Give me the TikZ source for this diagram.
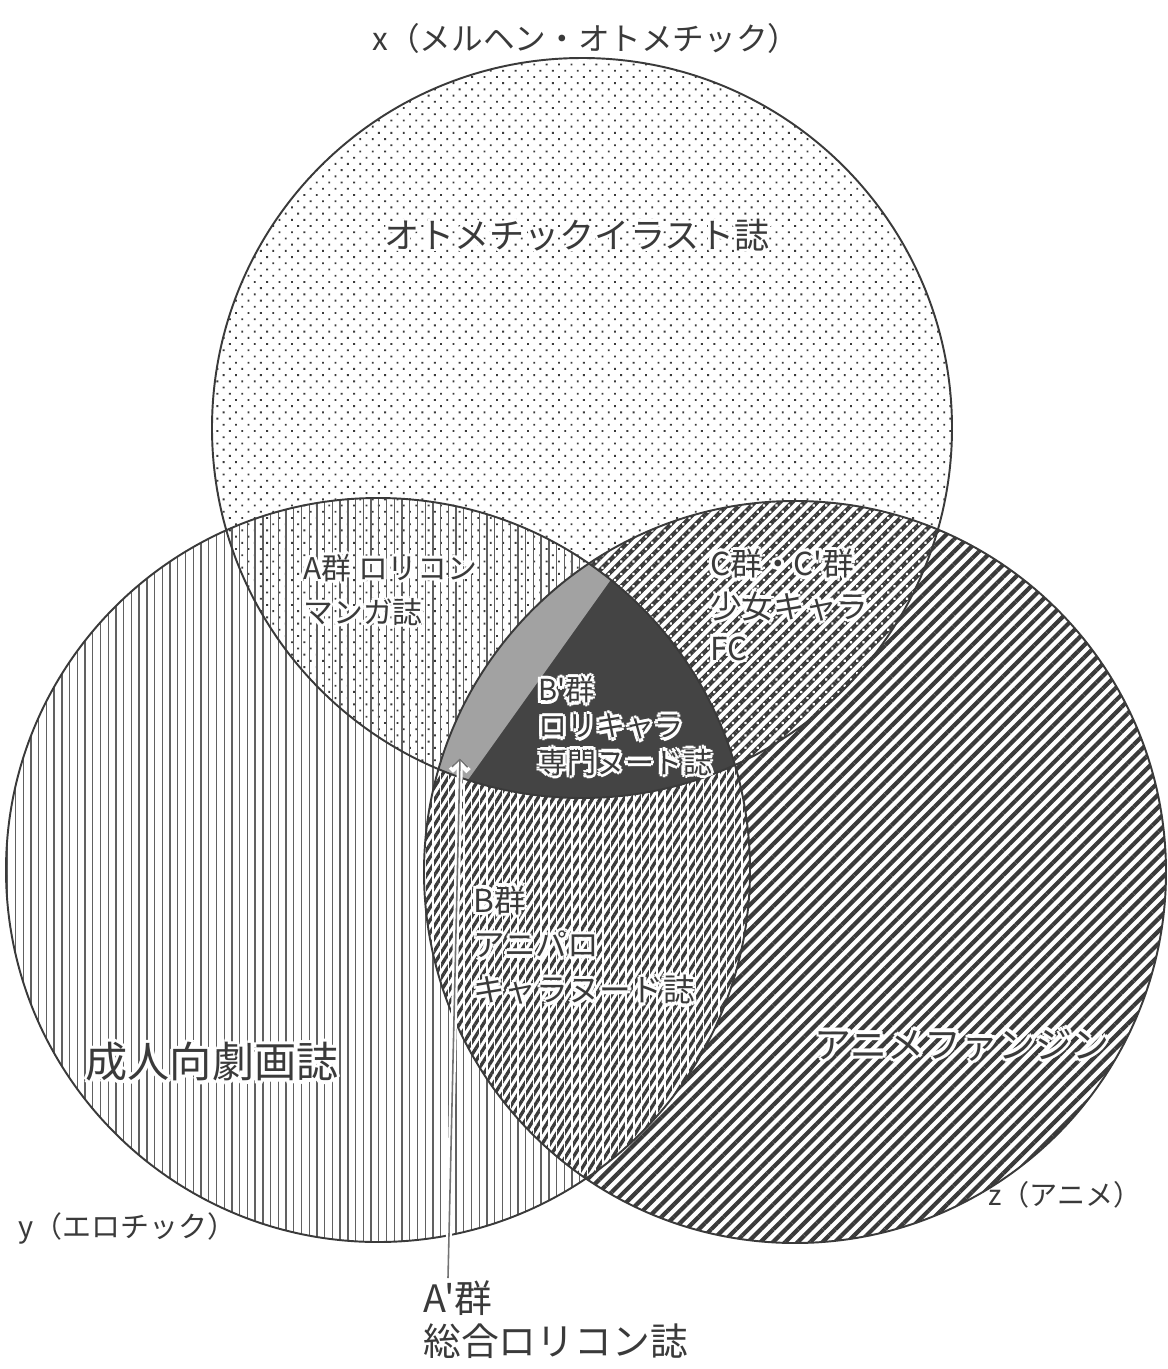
\documentclass[tikz,border=0pt]{standalone}
\usepackage{fontspec}
\newfontfamily\jp{Noto Sans CJK JP}
\usetikzlibrary{patterns.meta,arrows.meta,calc}
\definecolor{ink}{HTML}{3A3A3A}
\definecolor{darkfill}{HTML}{444444}
\definecolor{lightfill}{HTML}{A2A2A2}
\newcommand{\hc}[3]{\makebox[0pt][l]{\hspace*{#1}\raisebox{#2}{\color{white}#3}}}
\newcommand{\halo}[1]{\hc{1.9pt}{0pt}{#1}\hc{-1.9pt}{0pt}{#1}\hc{0pt}{1.9pt}{#1}\hc{0pt}{-1.9pt}{#1}\hc{1.35pt}{1.35pt}{#1}\hc{-1.35pt}{1.35pt}{#1}\hc{1.35pt}{-1.35pt}{#1}\hc{-1.35pt}{-1.35pt}{#1}#1}
\tikzset{
  lbl/.style={text=ink, inner sep=0pt, align=left},
  fs/.style 2 args={font=\jp\fontsize{#1}{#2}\selectfont},
  ring/.style={draw=ink, line width=1.1pt},
}
\begin{document}
\begin{tikzpicture}[x=0.02cm,y=-0.02cm]
\useasboundingbox (0,0) rectangle (1168,1369);
\fill[white] (0,0) rectangle (1168,1369);

% base patterns
\fill[pattern={Dots[distance=5pt,radius=0.75pt,angle=45]},pattern color=ink] (582,428) circle (370);
\fill[pattern={Lines[angle=90,distance=4.4pt,line width=0.75pt]},pattern color=ink!80] (378,870) circle (372);
\fill[pattern={Lines[angle=45,distance=5pt,line width=2.4pt]},pattern color=ink] (795,872) circle (371);

% y and z overlap (B)
\begin{scope}
\clip (378,870) circle (372);
\clip (795,872) circle (371);
\fill[white] (0,0) rectangle (1168,1369);
\fill[pattern={Lines[angle=58,distance=3.8pt,line width=1.9pt]},pattern color=ink] (0,0) rectangle (1168,1369);
\fill[pattern={Lines[angle=90,distance=4.4pt,line width=0.8pt]},pattern color=white] (0,0) rectangle (1168,1369);
\end{scope}

% x and z overlap (C)
\begin{scope}
\clip (582,428) circle (370);
\clip (795,872) circle (371);
\fill[pattern={Dots[distance=5pt,radius=0.9pt,angle=45]},pattern color=white] (0,0) rectangle (1168,1369);
\end{scope}

% triple overlap
\begin{scope}
\clip (582,428) circle (370);
\clip (378,870) circle (372);
\clip (795,872) circle (371);
\fill[darkfill] (0,0) rectangle (1168,1369);
\fill[lightfill] (662,508) -- (415,854) -- (300,854) -- (300,508) -- cycle;
\end{scope}

% outlines
\draw[ring] (582,428) circle (370);
\draw[ring] (378,870) circle (372);
\draw[ring] (795,872) circle (371);

% labels
\node[lbl, fs={18}{22}] (xlab) at (586,38) {x（メルヘン・オトメチック）};
\node[lbl, fs={16.5}{20}, anchor=west] (ylab) at (18,1228) {y（エロチック）};
\node[lbl, fs={16}{20}, anchor=west] (zlab) at (988,1195) {z（アニメ）};

\node[lbl, fs={20}{24}] (xonly) at (577,235) {\halo{オトメチックイラスト誌}};
\node[lbl, fs={24}{28}] (yonly) at (212,1062) {\halo{成人向劇画誌}};
\node[lbl, fs={21}{25}] (zonly) at (962,1045) {\halo{アニメファンジン}};

\node[lbl, fs={17}{25}, anchor=west] (agun) at (303,590) {\halo{A群 ロリコン}\\\halo{マンガ誌}};
\node[lbl, fs={18}{24}, anchor=west] (cgun) at (710,605) {\halo{C群・C'群}\\\halo{少女キャラ}\\\halo{FC}};
\node[lbl, fs={16.5}{20.5}, anchor=west] (bpgun) at (538,726) {\halo{B'群}\\\halo{ロリキャラ}\\\halo{専門ヌード誌}};
\node[lbl, fs={18}{25.5}, anchor=west] (bgun) at (473,945) {\halo{B群}\\\halo{アニパロ}\\\halo{キャラヌード誌}};
\node[lbl, fs={21.5}{24.5}, anchor=north west] (apgun) at (423,1280) {A'群\\総合ロリコン誌};

% arrow to A' part
\coordinate (aphead) at (460,758);
\coordinate (aptail) at ($(apgun.north west)+(25,-2)$);
\draw[white, line width=3.4pt, line cap=round, -{Straight Barb[length=5pt,width=10pt]}] (aptail) -- (aphead);
\draw[gray!90!black, line width=0.9pt, -{Straight Barb[length=4.5pt,width=9pt]}] (aptail) -- (aphead);
\end{tikzpicture}
\end{document}
